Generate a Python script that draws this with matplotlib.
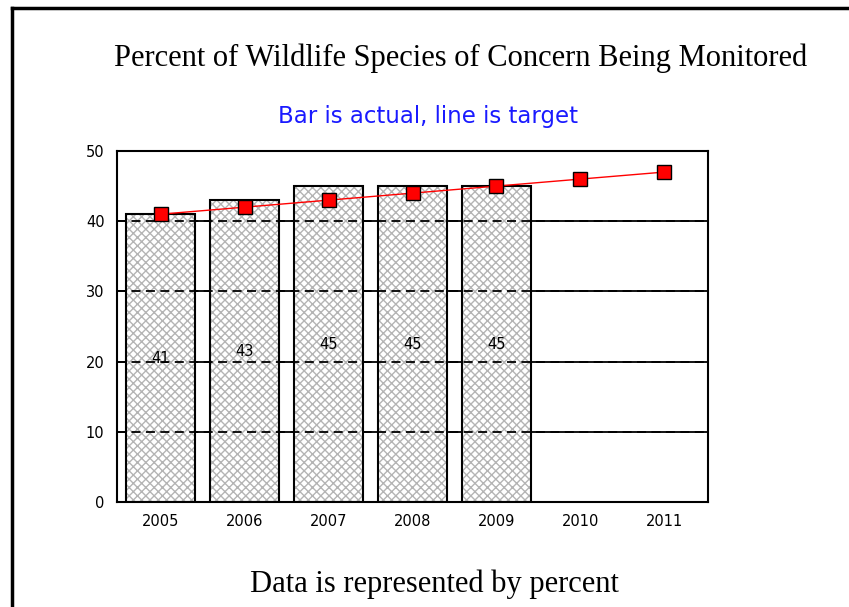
import numpy as np
import matplotlib
matplotlib.use("Agg")
import matplotlib.pyplot as plt
from matplotlib.lines import Line2D

# ── Data ──────────────────────────────────────────────────────────────────
years = ["2005", "2006", "2007", "2008", "2009", "2010", "2011"]
actual = [41, 43, 45, 45, 45]
target = [41, 42, 43, 44, 45, 46, 47]
yticks = [0, 10, 20, 30, 40, 50]

plt.rcParams["hatch.linewidth"] = 1.0

fig = plt.figure(figsize=(8.49, 6.07), dpi=100)
W, H = 849, 607

# plot area in pixels: left 117, right 708, top 151, bottom 502
ax = fig.add_axes([117 / W, 1 - 502 / H, (708 - 117) / W, (502 - 151) / H])

x = np.arange(len(years))
xa = np.arange(len(actual))

# gridlines: solid under the bars, dashed over them
for yv in yticks[1:-1]:
    ax.axhline(yv, color="black", lw=1.3, zorder=0.5)
# grey cross-hatch fill, then black outline on top
ax.bar(xa, actual, width=0.82, facecolor="white", edgecolor="#b4b4b4",
       linewidth=0, hatch="xxxx", zorder=1)
ax.bar(xa, actual, width=0.82, fill=False, edgecolor="black",
       linewidth=1.5, zorder=1.2)
for yv in yticks[1:-1]:
    ax.axhline(yv, color="black", lw=1.3, linestyle=(0, (5, 3)), zorder=1.1)

for xi, v in zip(xa, actual):
    ax.text(xi, v / 2, str(v), ha="center", va="center", fontsize=10.5,
            family="DejaVu Sans", zorder=3)

ax.plot(x, target, color="red", lw=1.0, marker="s", markersize=10,
        markerfacecolor="red", markeredgecolor="black", markeredgewidth=1.0,
        zorder=4)

ax.set_xlim(-0.52, len(years) - 0.48)
ax.set_ylim(0, 50)
ax.set_xticks(x)
ax.set_xticklabels(years, family="DejaVu Sans", fontsize=10.5)
ax.set_yticks(yticks)
ax.set_yticklabels([str(t) for t in yticks], family="DejaVu Sans", fontsize=10.5)
ax.tick_params(length=0, pad=9)
for sp in ax.spines.values():
    sp.set_linewidth(1.5)
    sp.set_color("black")

# titles
fig.text(461 / W, 1 - 66 / H, "Percent of Wildlife Species of Concern Being Monitored",
         ha="center", va="baseline", family="Liberation Serif", fontsize=22)
fig.text(428 / W, 1 - 123 / H, "Bar is actual, line is target",
         ha="center", va="baseline", family="DejaVu Sans", fontsize=16.5,
         color="#1a1aff")
fig.text(434 / W, 1 - 592 / H, "Data is represented by percent",
         ha="center", va="baseline", family="Liberation Serif", fontsize=22)

# slide frame: left and top edges
fig.add_artist(Line2D([12 / W, 12 / W], [0, 1 - 8 / H], color="black", lw=2.5,
                      transform=fig.transFigure))
fig.add_artist(Line2D([12 / W, 1], [1 - 8 / H, 1 - 8 / H], color="black", lw=2.5,
                      transform=fig.transFigure))

fig.savefig("out.png", dpi=100, facecolor="white")
